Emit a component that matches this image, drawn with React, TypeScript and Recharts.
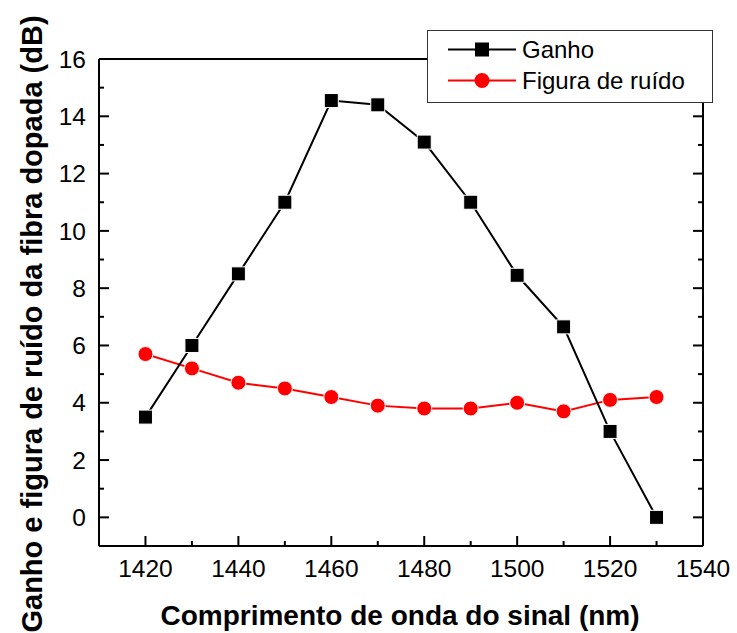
import React from 'react'
import { LineChart, Line, XAxis, YAxis, Legend, Label } from 'recharts'

// wavelengths (nm)
const wavelengths = [1420, 1430, 1440, 1450, 1460, 1470, 1480, 1490, 1500, 1510, 1520, 1530]
const ganho = [3.5, 6.0, 8.5, 11.0, 14.55, 14.4, 13.1, 11.0, 8.45, 6.65, 3.0, 0.0]
const figuraRuido = [5.7, 5.2, 4.7, 4.5, 4.2, 3.9, 3.8, 3.8, 4.0, 3.7, 4.1, 4.2]

const xMajor = [1420, 1440, 1460, 1480, 1500, 1520, 1540]
const xMinor = [1430, 1450, 1470, 1490, 1510, 1530]
const yMajor = [0, 2, 4, 6, 8, 10, 12, 14, 16]
const yMinor = [1, 3, 5, 7, 9, 11, 13, 15]

const xTicks = [...xMajor, ...xMinor].sort((a, b) => a - b)
const yTicks = [...yMajor, ...yMinor].sort((a, b) => a - b)

const data = wavelengths.map((wl, i) => ({ wl, ganho: ganho[i], ruido: figuraRuido[i] }))

const FONT = '"Liberation Sans", Arial, sans-serif'
const X_DOMAIN: [number, number] = [1410, 1540]
const Y_DOMAIN: [number, number] = [-1, 16]
const lineStyle = { stroke: '#000', strokeWidth: 2 }
const MAJOR = 10
const MINOR = 5

// inward tick marks drawn by the tick renderers, labels only on majors
function BottomTick({ x, y, payload }: any) {
  const major = xMajor.includes(payload.value)
  return (
    <g>
      <line x1={x} x2={x} y1={y} y2={y - (major ? MAJOR : MINOR)} {...lineStyle} />
      {major && (
        <text x={x} y={y + 14} dy="0.71em" textAnchor="middle" fontFamily={FONT} fontSize={24.5} fill="#000">
          {payload.value}
        </text>
      )}
    </g>
  )
}

function LeftTick({ x, y, payload }: any) {
  const major = yMajor.includes(payload.value)
  return (
    <g>
      <line x1={x} x2={x + (major ? MAJOR : MINOR)} y1={y} y2={y} {...lineStyle} />
      {major && (
        <text x={x - 13} y={y} dy="0.355em" textAnchor="end" fontFamily={FONT} fontSize={24.5} fill="#000">
          {payload.value}
        </text>
      )}
    </g>
  )
}

function TopTick({ x, y, payload }: any) {
  const major = xMajor.includes(payload.value)
  return <line x1={x} x2={x} y1={y} y2={y + (major ? MAJOR : MINOR)} {...lineStyle} />
}

function RightTick({ x, y, payload }: any) {
  const major = yMajor.includes(payload.value)
  return <line x1={x} x2={x - (major ? MAJOR : MINOR)} y1={y} y2={y} {...lineStyle} />
}

function SquareDot(props: any) {
  const { cx, cy } = props
  if (cx == null || cy == null) return null
  return <rect x={cx - 7} y={cy - 7} width={14} height={14} fill="#000" stroke="#fff" strokeWidth={1} />
}

function CircleDot(props: any) {
  const { cx, cy } = props
  if (cx == null || cy == null) return null
  return <circle cx={cx} cy={cy} r={7.5} fill="#ff0000" stroke="#fff" strokeWidth={1} />
}

function LegendBox() {
  const rows = [
    { name: 'Ganho', color: '#000', shape: 'square' },
    { name: 'Figura de ruído', color: '#ff0000', shape: 'circle' },
  ]
  return (
    <div
      style={{
        width: 284,
        height: 68,
        border: '1px solid #333',
        background: '#fff',
        fontFamily: FONT,
        fontSize: 24,
        color: '#000',
        paddingTop: 3,
      }}
    >
      {rows.map((r) => (
        <div key={r.name} style={{ display: 'flex', alignItems: 'center', height: 31 }}>
          <svg width={94} height={31} style={{ display: 'block' }}>
            <line x1={20} x2={88} y1={15.5} y2={15.5} stroke={r.color} strokeWidth={2} />
            {r.shape === 'square' ? (
              <rect x={47} y={8.5} width={14} height={14} fill={r.color} />
            ) : (
              <circle cx={54} cy={15.5} r={7.5} fill={r.color} />
            )}
          </svg>
          <span style={{ lineHeight: '31px' }}>{r.name}</span>
        </div>
      ))}
    </div>
  )
}

export default function App() {
  return (
    <div style={{ position: 'absolute', left: 0, top: 0, background: '#fff' }}>
      <LineChart width={737} height={633} data={data} margin={{ top: 59, right: 34, bottom: 86, left: 98 }}>
        <XAxis
          xAxisId="x"
          type="number"
          dataKey="wl"
          domain={X_DOMAIN}
          ticks={xTicks}
          interval={0}
          allowDataOverflow
          height={1}
          tickSize={0}
          tickMargin={0}
          tick={<BottomTick />}
          axisLine={lineStyle}
          tickLine={false}
        >
          <Label
            content={() => (
              <text x={400} y={625} textAnchor="middle" fontFamily={FONT} fontWeight="bold" fontSize={28} fill="#000">
                Comprimento de onda do sinal (nm)
              </text>
            )}
          />
        </XAxis>
        <XAxis
          xAxisId="xTop"
          orientation="top"
          mirror
          type="number"
          domain={X_DOMAIN}
          ticks={xTicks}
          interval={0}
          allowDataOverflow
          height={1}
          tickSize={0}
          tickMargin={0}
          tick={<TopTick />}
          axisLine={lineStyle}
          tickLine={false}
        />

        <YAxis
          yAxisId="y"
          type="number"
          domain={Y_DOMAIN}
          ticks={yTicks}
          interval={0}
          allowDataOverflow
          width={1}
          tickSize={0}
          tickMargin={0}
          tick={<LeftTick />}
          axisLine={lineStyle}
          tickLine={false}
        >
          <Label
            content={() => (
              <text
                x={32}
                y={324}
                transform="rotate(-90, 32, 324)"
                textAnchor="middle"
                dominantBaseline="central"
                fontFamily={FONT}
                fontWeight="bold"
                fontSize={29}
                fill="#000"
              >
                Ganho e figura de ruído da fibra dopada (dB)
              </text>
            )}
          />
        </YAxis>
        <YAxis
          yAxisId="yRight"
          orientation="right"
          mirror
          type="number"
          domain={Y_DOMAIN}
          ticks={yTicks}
          interval={0}
          allowDataOverflow
          width={1}
          tickSize={0}
          tickMargin={0}
          tick={<RightTick />}
          axisLine={lineStyle}
          tickLine={false}
        />

        <Line
          xAxisId="x"
          yAxisId="y"
          dataKey="ruido"
          name="Figura de ruído"
          stroke="#ff0000"
          strokeWidth={2}
          dot={<CircleDot />}
          activeDot={false}
          isAnimationActive={false}
        />
        <Line
          xAxisId="x"
          yAxisId="y"
          dataKey="ganho"
          name="Ganho"
          stroke="#000"
          strokeWidth={2}
          dot={<SquareDot />}
          activeDot={false}
          isAnimationActive={false}
        />
        <Legend
          layout="vertical"
          align="center"
          verticalAlign="middle"
          content={() => <LegendBox />}
          wrapperStyle={{ position: 'absolute', left: 427, top: 30, width: 'auto', height: 'auto' }}
        />
      </LineChart>
    </div>
  )
}
